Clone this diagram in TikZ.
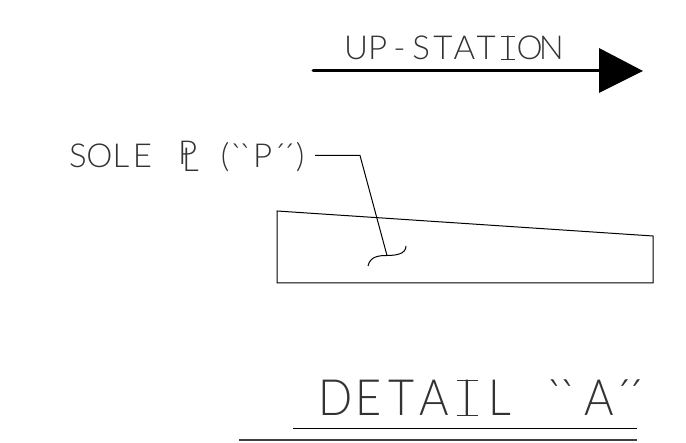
\documentclass[tikz,border=0pt]{standalone}
\usepackage{fontspec}
\newfontfamily\cadfont{Lato Light}
\newfontfamily\cadfontbig[FakeStretch=0.9]{Lato Light}
\newlength\pitch
\newcommand\mono[1]{\makebox[\pitch][c]{#1}}
\newcommand\barI{\makebox[\pitch][c]{\makebox[0pt][c]{I}\makebox[0pt][c]{\rule{.42em}{.025em}}\makebox[0pt][c]{\raisebox{.697em}{\rule{.42em}{.025em}}}}}
\tikzset{
  thinline/.style={draw=black,line width=1pt},
  cadtext/.style={inner sep=0pt,anchor=base west,text=black!80},
  smallcad/.style={cadtext,font=\cadfont\fontsize{33}{33}\selectfont},
  bigcad/.style={cadtext,font=\cadfontbig\fontsize{50}{50}\selectfont},
}
\begin{document}
\begin{tikzpicture}[x=1pt,y=-1pt]
\useasboundingbox (0,0) rectangle (686,443);
% arrow
\coordinate (as) at (313,70.5);
\coordinate (ae) at (600,70.5);
\draw[line width=3pt,line cap=round] (as) -- (ae);
\fill (599,48) -- (643,71) -- (599,93) -- cycle;
\node[smallcad] (up) at (345,60) {\setlength\pitch{21.7pt}\mono{U}\mono{P}\mono{-}\mono{S}\mono{T}\mono{A}\mono{T}\barI\mono{O}\mono{N}};
% label
\node[smallcad] (sole) at (67,168) {\setlength\pitch{21.5pt}\mono{S}\mono{O}\mono{L}\mono{E}};
\node[smallcad] (pp) at (178,165) {P};
\node[smallcad] (ll) at (182,172) {L};
\node[smallcad] (quo) at (218,168) {\setlength\pitch{14pt}\mono{(}\setlength\pitch{9pt}\mono{`}\mono{`}\setlength\pitch{25pt}\mono{P}\setlength\pitch{9pt}\mono{´}\mono{´}\setlength\pitch{14pt}\mono{)}};
% leader
\coordinate (la) at (315,155.5);
\coordinate (lb) at (360,155.5);
\coordinate (lc) at (387,255.5);
\draw[thinline] (la) -- (lb) -- (lc);
\draw[thinline] (368,266) .. controls (370,256) and (380,255.5) .. (lc) .. controls (396,255.5) and (406,254) .. (406,246);
% plate
\coordinate (p1) at (277,211);
\coordinate (p2) at (653,236);
\coordinate (p3) at (653,283);
\coordinate (p4) at (277,283);
\draw[thinline] (p1) -- (p2) -- (p3) -- (p4) -- cycle;
% title
\node[bigcad] (title) at (318.5,416) {\setlength\pitch{33pt}\mono{D}\mono{E}\mono{T}\mono{A}\barI\mono{L}\mono{ }\setlength\pitch{12.5pt}\mono{`}\mono{`}\setlength\pitch{33pt}\hspace{8pt}\mono{A}\setlength\pitch{12pt}\hspace{2pt}\mono{´}\mono{´}};
\coordinate (u1) at (293,429);
\coordinate (u2) at (637,429);
\draw[line width=1pt] (u1) -- (u2);
\coordinate (v1) at (239,440);
\coordinate (v2) at (637,440);
\draw[line width=1.4pt,black!75] (v1) -- (v2);
\end{tikzpicture}
\end{document}
